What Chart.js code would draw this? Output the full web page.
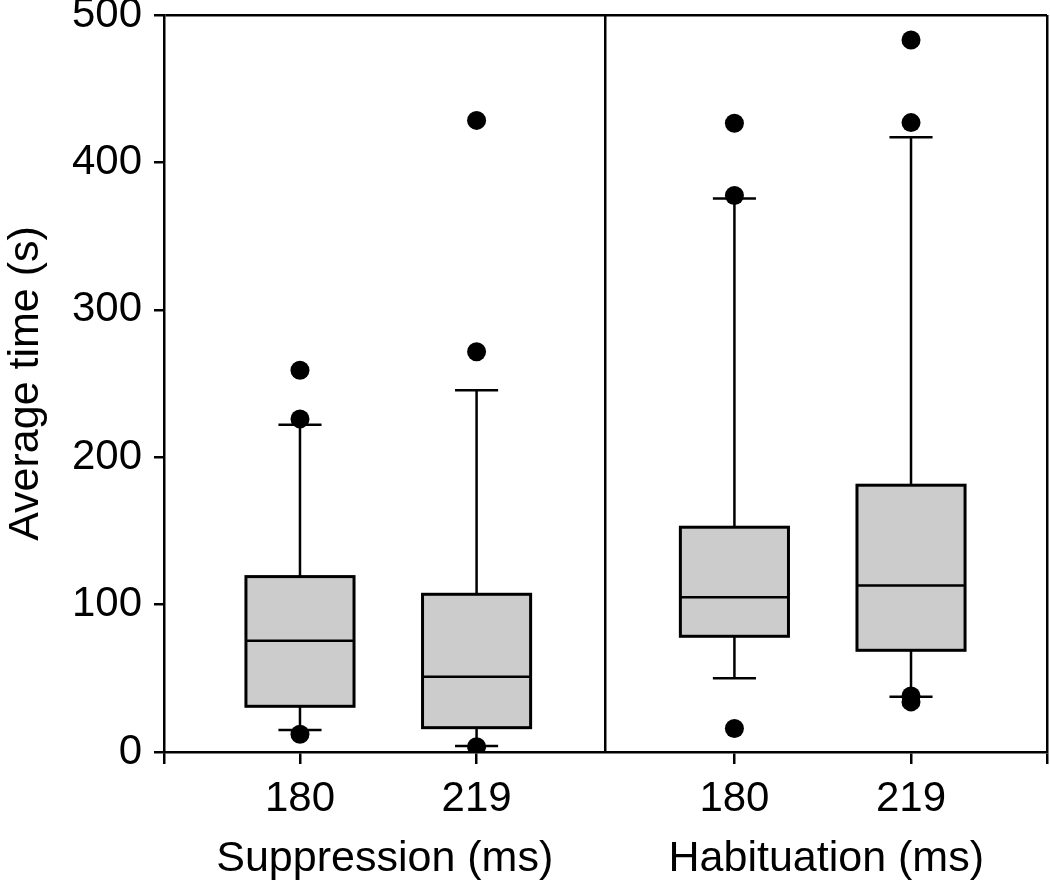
<!DOCTYPE html>
<html>
<head>
<meta charset="utf-8">
<script src="https://cdn.jsdelivr.net/npm/chart.js@4.4.1/dist/chart.umd.min.js"></script>
<style>
  html, body { margin: 0; padding: 0; background: #fff; }
  #chart { display: block; }
</style>
</head>
<body>
<canvas id="chart" width="1050" height="880"></canvas>
<script>
// ---- data ----
const categories = ['180', '219', '180', '219'];
const groups = ['Suppression (ms)', 'Habituation (ms)'];
const xPositions = [0.77, 1.77, 3.23, 4.23];   // where each box sits on the x scale
const groupCenters = [1.25, 3.75];
const dividerAt = 2.5;

const whiskerLow  = [15, 4, 50, 37.5];
const q1          = [31, 16.5, 78.5, 69];
const median      = [75.5, 51, 105, 113];
const q3          = [119, 107, 152.5, 181];
const whiskerHigh = [222, 245.5, 375.5, 417];
const outliers    = [[259, 226, 12], [428.5, 271.5, 3.5], [426.5, 377.5, 16], [483, 427, 38, 34]];

const yTicks = [0, 100, 200, 300, 400, 500];

// ---- styling ----
const FONT = "'Liberation Sans', Arial, Helvetica, sans-serif";
const BOX_HALF = 0.306;   // in x units
const CAP_HALF = 0.122;

const xTickValues = [0, ...xPositions.slice(0, 2), dividerAt, ...xPositions.slice(2), 5];

// draw boxes + whiskers under the outlier dots
const boxPlugin = {
  id: 'boxes',
  beforeDatasetsDraw(chart) {
    const { ctx, scales: { x, y } } = chart;
    ctx.save();
    ctx.strokeStyle = '#000';
    for (let i = 0; i < xPositions.length; i++) {
      const cx = x.getPixelForValue(xPositions[i]);
      const l = x.getPixelForValue(xPositions[i] - BOX_HALF);
      const r = x.getPixelForValue(xPositions[i] + BOX_HALF);
      const cl = x.getPixelForValue(xPositions[i] - CAP_HALF);
      const cr = x.getPixelForValue(xPositions[i] + CAP_HALF);
      const yQ1 = y.getPixelForValue(q1[i]);
      const yQ3 = y.getPixelForValue(q3[i]);
      const yMed = y.getPixelForValue(median[i]);
      const yLo = y.getPixelForValue(whiskerLow[i]);
      const yHi = y.getPixelForValue(whiskerHigh[i]);

      // whiskers
      ctx.lineWidth = 2.5;
      ctx.beginPath();
      ctx.moveTo(cx, yQ3); ctx.lineTo(cx, yHi);
      ctx.moveTo(cl, yHi); ctx.lineTo(cr, yHi);
      ctx.moveTo(cx, yQ1); ctx.lineTo(cx, yLo);
      ctx.moveTo(cl, yLo); ctx.lineTo(cr, yLo);
      ctx.stroke();

      // box
      ctx.fillStyle = '#cccccc';
      ctx.fillRect(l, yQ3, r - l, yQ1 - yQ3);
      ctx.lineWidth = 3;
      ctx.strokeRect(l, yQ3, r - l, yQ1 - yQ3);

      // median
      ctx.lineWidth = 2.5;
      ctx.beginPath();
      ctx.moveTo(l, yMed); ctx.lineTo(r, yMed);
      ctx.stroke();
    }
    ctx.restore();
  }
};

// group titles under each panel
const groupLabelPlugin = {
  id: 'groupLabels',
  afterDraw(chart) {
    const { ctx, scales: { x } } = chart;
    ctx.save();
    ctx.fillStyle = '#000';
    ctx.font = '43px ' + FONT;
    ctx.textAlign = 'center';
    ctx.textBaseline = 'alphabetic';
    groups.forEach((g, i) => {
      ctx.fillText(g, x.getPixelForValue(groupCenters[i]), 871);
    });
    ctx.restore();
  }
};

const whiteBg = {
  id: 'whiteBg',
  beforeDraw(chart) {
    const { ctx, width, height } = chart;
    ctx.save();
    ctx.fillStyle = '#fff';
    ctx.fillRect(0, 0, width, height);
    ctx.restore();
  }
};

const outlierData = [];
outliers.forEach((arr, i) => arr.forEach(v => outlierData.push({ x: xPositions[i], y: v })));

new Chart(document.getElementById('chart'), {
  type: 'scatter',
  data: {
    datasets: [{
      data: outlierData,
      pointRadius: 9.5,
      pointHoverRadius: 9.5,
      backgroundColor: '#000',
      borderColor: '#000',
      borderWidth: 0
    }]
  },
  options: {
    responsive: false,
    animation: false,
    layout: { autoPadding: false, padding: { top: 15, right: 3, left: 0, bottom: 0 } },
    plugins: { legend: { display: false }, tooltip: { enabled: false } },
    scales: {
      x: {
        type: 'linear',
        min: 0,
        max: 5,
        afterBuildTicks(scale) { scale.ticks = xTickValues.map(v => ({ value: v })); },
        afterFit(scale) {
          scale.height = 128;
          scale.paddingLeft = 0; scale.paddingRight = 0;
        },
        ticks: {
          autoSkip: false,
          maxRotation: 0,
          padding: 10,
          color: '#000',
          font: { family: FONT, size: 42 },
          callback(v) {
            const i = xPositions.indexOf(v);
            return i >= 0 ? categories[i] : '';
          }
        },
        grid: {
          drawOnChartArea: true,
          lineWidth: 2.5,
          tickLength: 12,
          tickWidth: 2.5,
          color: ctx => (ctx.tick && (ctx.tick.value === dividerAt || ctx.tick.value === 5)) ? '#000' : 'rgba(0,0,0,0)',
          tickColor: ctx => (ctx.tick && ctx.tick.value === dividerAt) ? 'rgba(0,0,0,0)' : '#000'
        },
        border: { display: true, color: '#000', width: 2.5 }
      },
      y: {
        min: 0,
        max: 500,
        afterBuildTicks(scale) { scale.ticks = yTicks.map(v => ({ value: v })); },
        afterFit(scale) {
          scale.width = 164;
          scale.paddingTop = 0; scale.paddingBottom = 0;
        },
        ticks: {
          padding: 12,
          color: '#000',
          font: { family: FONT, size: 42 }
        },
        title: {
          display: true,
          text: 'Average time (s)',
          color: '#000',
          font: { family: FONT, size: 43 },
          padding: { top: 0, bottom: 0 }
        },
        grid: {
          drawOnChartArea: true,
          lineWidth: 2.5,
          tickLength: 10,
          tickWidth: 2.5,
          color: ctx => (ctx.tick && ctx.tick.value === 500) ? '#000' : 'rgba(0,0,0,0)',
          tickColor: '#000'
        },
        border: { display: true, color: '#000', width: 2.5 }
      }
    }
  },
  plugins: [whiteBg, boxPlugin, groupLabelPlugin]
});
</script>
</body>
</html>
